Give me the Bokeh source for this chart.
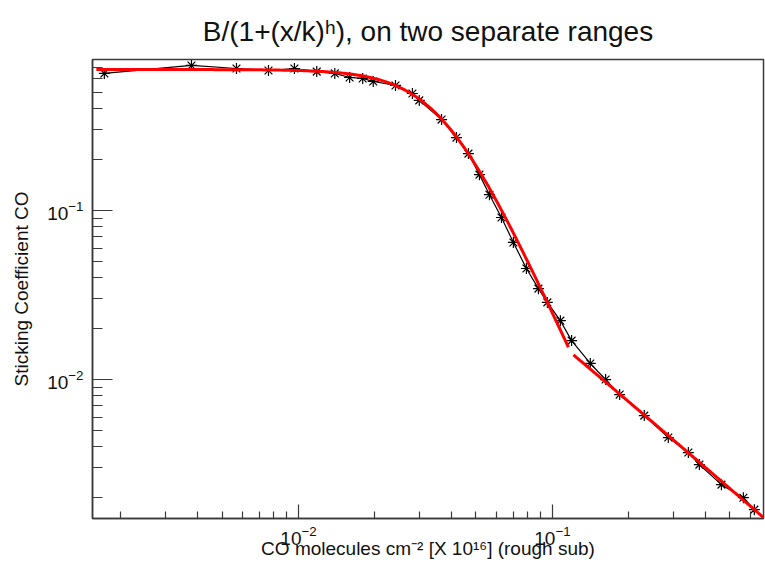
import numpy as np
from bokeh.plotting import figure
from bokeh.models import Range1d, FixedTicker, ColumnDataSource
from bokeh.embed import file_html
from bokeh.resources import INLINE

# ---- data ----
x_data = [0.00172, 0.00379, 0.00570, 0.00762, 0.00964, 0.0118, 0.0139, 0.0159,
          0.0179, 0.0197, 0.0241, 0.0281, 0.0299, 0.0366, 0.0419, 0.0467,
          0.0516, 0.0565, 0.0630, 0.0702, 0.0790, 0.0881, 0.0955, 0.1075,
          0.119, 0.141, 0.162, 0.184, 0.230, 0.286, 0.343, 0.379, 0.463,
          0.565, 0.624]
y_data = [0.647, 0.721, 0.692, 0.673, 0.692, 0.663, 0.647, 0.612,
          0.604, 0.580, 0.549, 0.492, 0.448, 0.345, 0.270, 0.217,
          0.163, 0.124, 0.0909, 0.0647, 0.0454, 0.0345, 0.0286, 0.0223,
          0.0170, 0.01245, 0.0100, 0.00815, 0.00612, 0.00454, 0.00370, 0.00314, 0.00239,
          0.00200, 0.00170]

# fit B/(1+(x/k)^h) on two ranges
fit1_B, fit1_k, fit1_h = 0.682, 0.037, 3.3
fit1_range = [0.0016, 0.1156]
fit2_B, fit2_k, fit2_h = 0.5, 0.0079, 1.3
fit2_range = [0.121, 0.70]

x_major_ticks = [0.01, 0.1]
y_major_ticks = [0.01, 0.1]
x_decades = [0.001, 0.01, 0.1]
y_decades = [0.001, 0.01, 0.1]

title_text = "B/(1+(x/k)\u02b0), on two separate ranges"
x_label = "CO molecules cm\u207b\u00b2 [X 10\u00b9\u2076] (rough sub)"
y_label = "Sticking Coefficient CO"


def fit_curve(B, k, h, rng, n=300):
    xs = np.logspace(np.log10(rng[0]), np.log10(rng[1]), n)
    return xs, B / (1.0 + (xs / k) ** h)


FONT = "Liberation Sans"
FRAME_COLOR = "#3a3a3a"
TEXT_COLOR = "#111111"

p = figure(width=765, height=562,
           x_axis_type="log", y_axis_type="log",
           x_range=Range1d(0.001545, 0.678), y_range=Range1d(0.001507, 0.782),
           output_backend="svg", toolbar_location=None,
           title=title_text,
           min_border_left=92, min_border_right=2,
           min_border_top=59, min_border_bottom=44)

p.title.text_font = FONT
p.title.text_font_size = "28px"
p.title.text_font_style = "normal"
p.title.align = "center"
p.title.text_color = TEXT_COLOR
p.title.standoff = 26

p.background_fill_color = "white"
p.border_fill_color = "white"
p.outline_line_color = FRAME_COLOR
p.outline_line_width = 1.5
p.xgrid.visible = False
p.ygrid.visible = False

x_minor = [m * d for d in x_decades for m in range(2, 10)]
y_minor = [m * d for d in y_decades for m in range(2, 10)]
p.xaxis.ticker = FixedTicker(ticks=x_major_ticks, minor_ticks=x_minor)
p.yaxis.ticker = FixedTicker(ticks=y_major_ticks, minor_ticks=y_minor)

for ax, maj, mnr in ((p.xaxis, 14, 7), (p.yaxis, 20, 10)):
    ax.major_tick_in = maj
    ax.major_tick_out = 0
    ax.minor_tick_in = mnr
    ax.minor_tick_out = 0
    ax.axis_line_color = FRAME_COLOR
    ax.axis_line_width = 1.5
    ax.major_tick_line_color = FRAME_COLOR
    ax.minor_tick_line_color = FRAME_COLOR
    ax.major_tick_line_width = 1.2
    ax.minor_tick_line_width = 1.2
    ax.major_label_text_font = FONT
    ax.major_label_text_font_size = "19px"
    ax.major_label_text_color = TEXT_COLOR
    ax.axis_label_text_font = FONT
    ax.axis_label_text_font_size = "19px"
    ax.axis_label_text_font_style = "normal"
    ax.axis_label_text_color = TEXT_COLOR

p.xaxis.axis_label = x_label
p.yaxis.axis_label = y_label
p.xaxis.major_label_standoff = 7
p.xaxis.axis_label_standoff = -10
p.yaxis.major_label_standoff = 9
p.yaxis.axis_label_standoff = 12

src = ColumnDataSource(dict(x=x_data, y=y_data))
p.line("x", "y", source=src, line_color="black", line_width=1.2)
p.scatter("x", "y", source=src, marker="asterisk", size=11,
          line_color="black", line_width=1.2)

for B, k, h, rng in ((fit1_B, fit1_k, fit1_h, fit1_range),
                     (fit2_B, fit2_k, fit2_h, fit2_range)):
    fx, fy = fit_curve(B, k, h, rng)
    p.line(fx, fy, line_color="#ff0000", line_width=3)

open("out.html", "w").write(file_html(p, INLINE))
